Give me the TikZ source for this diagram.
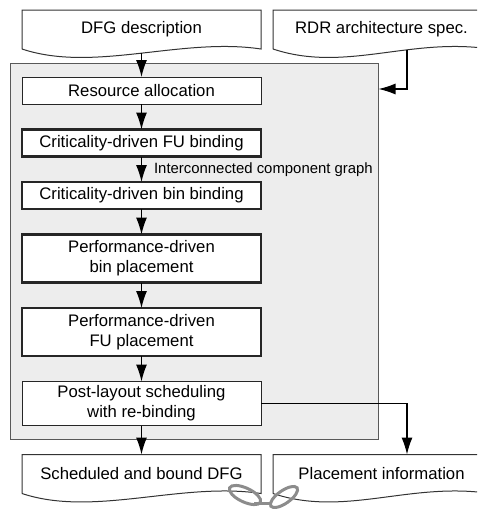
\documentclass[tikz,border=0pt]{standalone}
\usepackage{fontspec}
\setmainfont{Liberation Sans}
\usetikzlibrary{arrows.meta, positioning, fit, backgrounds}

% outline of a document symbol round a node
\newcommand{\docoutline}[1]{%
  \draw[docline] (#1.south west) -- (#1.north west) -- (#1.north east) -- (#1.south east)
    .. controls +(-40pt,6pt) and +(36pt,-12pt) .. (#1.south west);}

\begin{document}
\begin{tikzpicture}[node distance = 12.75pt and 6pt]
        \tikzstyle{docnode} = [rectangle, minimum width = 119.5pt, minimum height = 19.5pt, inner sep = 0pt, outer sep = 0pt, font = \fontsize{8.35}{10}\selectfont]
        \tikzstyle{docline} = [draw = black!80, line width = 0.5pt]
        \tikzstyle{stepbox} = [rectangle, draw = black!85, fill = white, line width = 0.5pt, minimum width = 119.5pt, minimum height = 13.5pt, inner sep = 0pt, outer sep = 0pt, align = center, font = \fontsize{8.35}{10}\selectfont]
        \tikzstyle{keybox} = [stepbox, line width = 1.1pt]
        \tikzstyle{panel} = [rectangle, draw = black!65, line width = 0.5pt, fill = black!7, inner sep = 0pt]
        \tikzstyle{connect} = [-{Latex[length = 8.5pt, width = 5.5pt]}, line width = 0.6pt]
        \tikzstyle{lbl} = [inner sep = 0pt, font = \fontsize{7.45}{9}\selectfont]
        \clip (0,0) rectangle (238.5pt,-254.5pt);
        \node[docnode] (dfg) at (70.75pt,-14.75pt) {DFG description};
        \node[docnode, right=of dfg, minimum width = 108.5pt] (rdr) {RDR architecture spec.};
        \node[stepbox, below=14pt of dfg] (alloc) {Resource allocation};
        \node[keybox, below=of alloc] (fubind) {Criticality-driven FU binding};
        \node[keybox, below=of fubind] (binbind) {Criticality-driven bin binding};
        \node[keybox, below=of binbind, minimum height = 24pt] (binplace) {Performance-driven\\bin placement};
        \node[keybox, below=of binplace, minimum height = 24pt] (fuplace) {Performance-driven\\FU placement};
        \node[stepbox, below=of fuplace, minimum height = 22pt] (post) {Post-layout scheduling\\with re-binding};
        \node[docnode, below=14.5pt of post] (sched) {Scheduled and bound DFG};
        \node[docnode, right=of sched, minimum width = 108.5pt] (place) {Placement information};
        \coordinate (tl) at ([xshift=-6pt, yshift=7pt]alloc.north west);
        \coordinate (br) at ([xshift=58.5pt, yshift=-7pt]post.south east);
        \begin{scope}[on background layer]
          \node[panel, fit = (tl) (br)] (flow) {};
        \end{scope}
        \docoutline{dfg}
        \docoutline{rdr}
        \docoutline{sched}
        \docoutline{place}
        \path ([yshift=-2pt]dfg.south) edge [connect] (alloc)
        (alloc) edge [connect] (fubind)
        (fubind) edge [connect] node[lbl, right=6pt] {Interconnected component graph} (binbind)
        (binbind) edge [connect] (binplace) (binplace) edge [connect] (fuplace)
        (fuplace) edge [connect] (post) (post) edge [connect] (sched);
        \draw[connect] ([xshift=12.75pt, yshift=-0.7pt]rdr.south) |- ([yshift=0.75pt]flow.east |- alloc);
        \draw[connect] (post.east) -| ([xshift=12.75pt]place.north);
        % grey clip mark under the two outputs
        \draw[black!45, line width = 1.5pt] (122.5pt,-247.5pt) ellipse [x radius = 8.5pt, y radius = 3.5pt, rotate = -25];
        \draw[black!45, line width = 1.5pt] (142pt,-248.5pt) ellipse [x radius = 8pt, y radius = 3.2pt, rotate = 35];
        \draw[black!45, line width = 1.5pt] (127pt,-251.5pt) -- (135pt,-251.5pt);
      \end{tikzpicture}
\end{document}
